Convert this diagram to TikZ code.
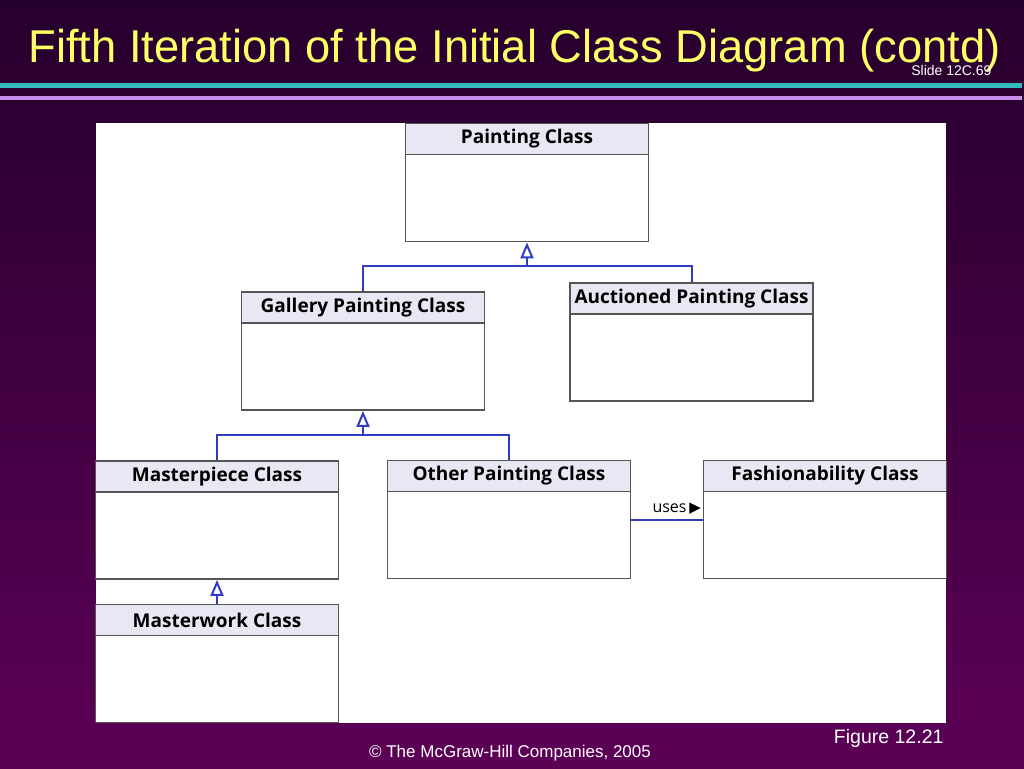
\documentclass[tikz,border=0pt]{standalone}
\usepackage{fontspec}
\setmainfont{Liberation Sans}
\newfontfamily\boxfont{Open Sans}
\newfontfamily\symfont{DejaVu Sans}
\usetikzlibrary{arrows.meta,positioning}

\definecolor{bgtop}{RGB}{38,0,45}
\definecolor{bgbot}{RGB}{92,0,86}
\definecolor{titleyellow}{RGB}{255,255,102}
\definecolor{linecyan}{RGB}{51,187,190}
\definecolor{linelilac}{RGB}{200,140,235}
\definecolor{headfill}{RGB}{232,232,244}
\definecolor{boxline}{RGB}{85,85,85}
\definecolor{linkblue}{RGB}{50,60,190}

\begin{document}
\begin{tikzpicture}[x=1pt, y=-1pt,
  class/.style = {draw=boxline, line width=1.8pt, fill=white, inner sep=0pt,
                  minimum width=243pt, minimum height=118pt},
  head/.style = {draw=boxline, line width=1.8pt, fill=headfill, inner sep=0pt,
                 minimum width=243pt, minimum height=31pt, anchor=north,
                 font=\boxfont\bfseries\fontsize{19}{19}\selectfont},
  link/.style = {linkblue, line width=2pt},
  inherit/.style = {link, -{Triangle[open, length=16pt, width=13pt, fill=white]}}]

% slide background
\useasboundingbox (0,0) rectangle (1024,768);
\shade [top color=bgtop, bottom color=bgbot] (0,0) rectangle (1024,768);
\draw [linecyan, line width=5pt] (0,85.5) -- (1022,85.5);
\draw [linelilac, line width=4pt] (0,98) -- (1022,98);

\node [anchor=base west, text=titleyellow, xscale=0.985,
       font=\fontsize{46}{46}\selectfont] (title) at (25,63)
  {Fifth Iteration of the Initial Class Diagram (contd)};
\node [anchor=base east, white, font=\fontsize{14}{14}\selectfont] (slide) at (995,75) {Slide 12C.69};

% figure panel
\fill [white] (96,123) rectangle (946,723);

% classes
\node [class] (paint) at (527,182.5) {};
\node [head] (painthead) at (paint.north) {Painting Class};
\node [class] (gallery) at (363,351) {};
\node [head] (galleryhead) at (gallery.north) {Gallery Painting Class};
\node [class] (auction) at (691.5,342) {};
\node [head] (auctionhead) at (auction.north) {Auctioned Painting Class};
\node [class] (master) at (217,520) {};
\node [head] (masterhead) at (master.north) {Masterpiece Class};
\node [class] (other) at (509,519.5) {};
\node [head] (otherhead) at (other.north) {Other Painting Class};
\node [class] (fashion) at (825,519.5) {};
\node [head] (fashionhead) at (fashion.north) {Fashionability Class};
\node [class] (work) at (217,663.5) {};
\node [head] (workhead) at (work.north) {Masterwork Class};

% generalization
\coordinate (j1) at (527,266);
\draw [link] (gallery.north) |- (j1) -| (auction.north);
\draw [inherit] (j1) -- (paint.south);
\coordinate (j2) at (363,435);
\draw [link] (master.north) |- (j2) -| (other.north);
\draw [inherit] (j2) -- (gallery.south);
\draw [inherit] (work.north) -- (master.south);

% association
\draw [link] (other) -- (fashion);
\node [anchor=base west, text=black, font=\boxfont\fontsize{16}{16}\selectfont] (uses) at (649,512)
  {uses\,{\symfont\fontsize{15}{15}\selectfont ▶}};

% footer
\node [anchor=base, white, font=\fontsize{17}{17}\selectfont] (copy) at (510,757)
  {© The McGraw-Hill Companies, 2005};
\node [anchor=base east, white, font=\fontsize{19.5}{19.5}\selectfont] (fig) at (947,743) {Figure 12.21};
\end{tikzpicture}
\end{document}
